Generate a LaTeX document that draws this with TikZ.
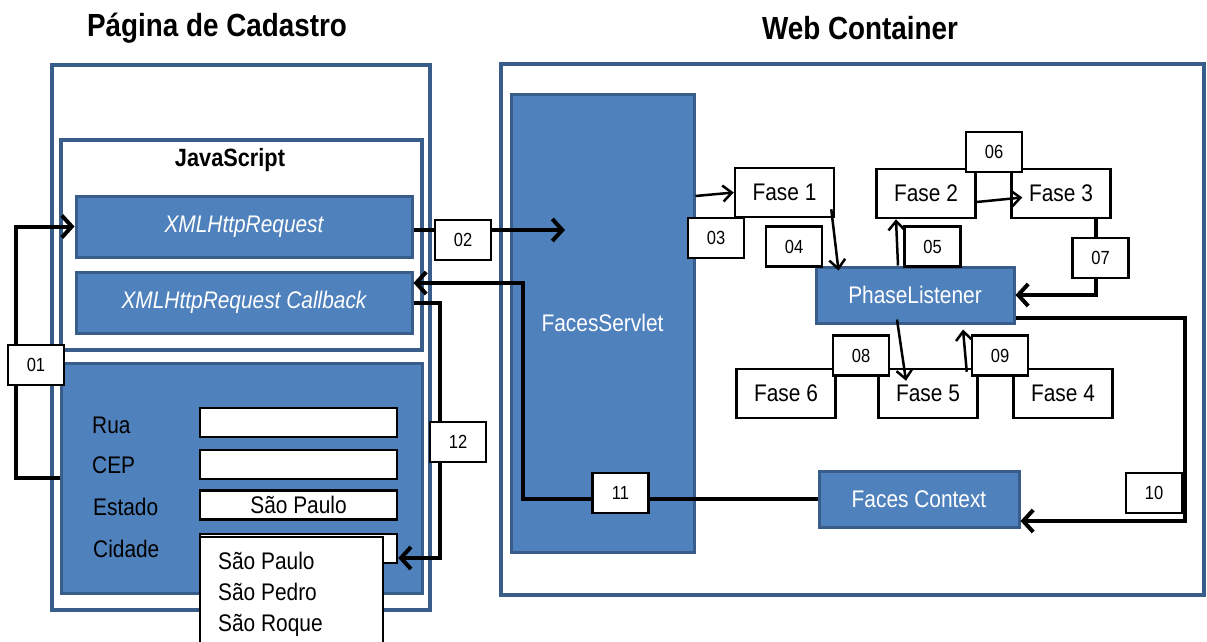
\documentclass[tikz,border=0pt]{standalone}
\usepackage{fontspec}
\setmainfont{Liberation Sans}[FakeStretch=0.87]
\usetikzlibrary{arrows.meta, positioning}
\definecolor{boxfill}{RGB}{79,129,189}
\definecolor{boxedge}{RGB}{56,93,138}
\newcommand{\figtxt}{\fontsize{24}{26}\selectfont}
\newcommand{\tagtxt}{\fontsize{19}{20}\selectfont}
\newcommand{\headtxt}{\fontsize{32}{34}\selectfont\bfseries}
\newcommand{\jstxt}{\fontsize{25}{27}\selectfont\bfseries}

\begin{document}
\begin{tikzpicture}[x=1pt, y=-1pt, font=\figtxt,
  frame/.style={draw=boxedge, line width=4pt, fill=white},
  bluebox/.style={draw=boxedge, line width=3pt, fill=boxfill, text=white},
  fase/.style={draw, line width=2.5pt, fill=white, minimum width=99pt, minimum height=49pt},
  field/.style={draw, line width=2.5pt, fill=white, minimum width=197pt, minimum height=29pt},
  tag/.style={draw, line width=2.5pt, fill=white, minimum width=56pt, minimum height=40pt, font=\tagtxt},
  lbl/.style={anchor=base west, inner sep=0pt},
  conn/.style={line width=4pt, -{Straight Barb[length=10pt,width=22pt]}},
  link/.style={line width=2.5pt, -{Straight Barb[length=9pt,width=16pt]}}]
  \path[use as bounding box, fill=white] (0,0) rectangle (1207,642);

  % titles
  \node[font=\headtxt] (pagtitle) at (217,28) {Página de Cadastro};
  \node[font=\headtxt] (webtitle) at (860,28) {Web Container};

  % page side
  \node[frame, minimum width=378pt, minimum height=545pt] (pagina) at (241,337.5) {};
  \node[frame, line width=3.5pt, minimum width=361pt, minimum height=210pt] (jsbox) at (241.5,245) {};
  \node[font=\jstxt] (jstitle) at (230,160) {JavaScript};
  \node[bluebox, minimum width=336pt, minimum height=61pt, font=\figtxt\itshape] (xhr) at (244,226.5) {XMLHttpRequest};
  \node[bluebox, minimum width=336pt, minimum height=61pt, font=\figtxt\itshape] (xhrcb) at (244,302.5) {XMLHttpRequest Callback};
  \node[bluebox, minimum width=361pt, minimum height=230pt] (form) at (241.5,478) {};

  % form fields
  \node[lbl] (rualbl) at (92,433) {Rua};
  \node[lbl] (ceplbl) at (92,473) {CEP};
  \node[lbl] (estlbl) at (93,515) {Estado};
  \node[lbl] (cidlbl) at (93,557) {Cidade};
  \node[field] (rua) at (298.5,422.5) {};
  \node[field] (cep) at (298.5,464.5) {};
  \node[field] (estado) at (298.5,505) {São Paulo};
  \node[field] (cidade) at (298.5,548.5) {};

  % web container
  \node[frame, minimum width=703pt, minimum height=531pt] (webcont) at (852.5,329.5) {};
  \node[bluebox, minimum width=183pt, minimum height=458pt] (servlet) at (602.5,323) {FacesServlet};
  \node[fase] (fase1) at (784.5,192.5) {Fase 1};
  \node[fase] (fase2) at (926,193.5) {Fase 2};
  \node[fase] (fase3) at (1061,193.5) {Fase 3};
  \node[fase] (fase6) at (786,393.5) {Fase 6};
  \node[fase] (fase5) at (928,393.5) {Fase 5};
  \node[fase] (fase4) at (1063,393.5) {Fase 4};
  \node[bluebox, minimum width=198pt, minimum height=56pt] (phl) at (915,295) {PhaseListener};
  \node[bluebox, minimum width=200pt, minimum height=56pt] (ctx) at (919,499) {Faces Context};

  % connectors
  \coordinate (srvin) at (565,230);
  \coordinate (srvback) at (523,283);
  \coordinate (rtturn) at (1185,318);
  \draw[conn] (form.west) -- ++(-44,0) |- (xhr.west);
  \draw[conn] (xhr.east |- srvin) -- (srvin);
  \draw[link] (servlet.east |- 0,196) -- (fase1.west);
  \draw[link] ([xshift=-4pt,yshift=9pt]fase1.south east) -- ([xshift=24pt,yshift=-5pt]phl.north west);
  \draw[link] ([xshift=-17pt]phl.north) -- ([xshift=-30pt]fase2.south);
  \draw[link] ([yshift=-8.5pt]fase2.east) -- ([xshift=12pt,yshift=-4pt]fase3.west);
  \draw[conn] ([xshift=35pt]fase3.south) |- (phl.east);
  \draw[link] ([xshift=-18pt,yshift=5pt]phl.south) -- ([xshift=-22pt,yshift=-13pt]fase5.north);
  \draw[link] ([xshift=-12pt,yshift=-4pt]fase5.north east) -- ([xshift=48pt,yshift=-5pt]phl.south);
  \draw[conn] ([yshift=-23pt]phl.east) -- (rtturn) |- ([yshift=-22pt]ctx.east);
  \draw[conn] (ctx.west) -| (srvback) -- (xhrcb.east |- srvback);
  \draw[conn] (xhrcb.east) -- ++(26,0) |- ([yshift=-9.5pt]cidade.east);

  % open list of cities
  \draw[line width=2.5pt, fill=white] (200,643) |- (383,537) -- (383,643);
  \node[lbl] (sp) at (218,569) {São Paulo};
  \node[lbl] (spe) at (218,600) {São Pedro};
  \node[lbl] (sr) at (218,631) {São Roque};

  % step tags
  \node[tag] (t01) at (36,365) {01};
  \node[tag] (t02) at (463,240) {02};
  \node[tag] (t03) at (716,238) {03};
  \node[tag] (t04) at (794,246.5) {04};
  \node[tag] (t05) at (932.5,246.5) {05};
  \node[tag] (t06) at (994,152) {06};
  \node[tag] (t07) at (1100.5,258) {07};
  \node[tag] (t08) at (861,355.5) {08};
  \node[tag] (t09) at (1000,355.5) {09};
  \node[tag] (t10) at (1154,493) {10};
  \node[tag] (t11) at (620.5,493) {11};
  \node[tag] (t12) at (458,442) {12};
\end{tikzpicture}
\end{document}
